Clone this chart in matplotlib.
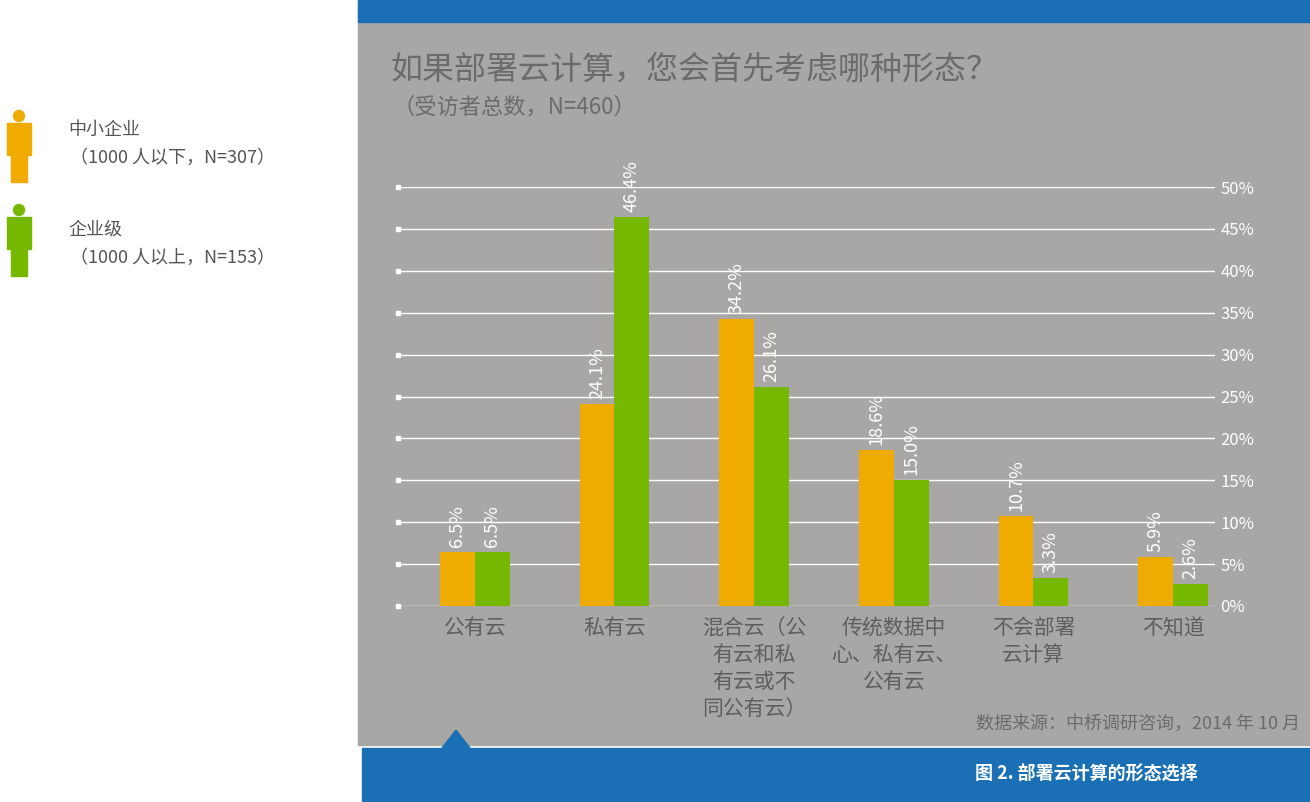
import matplotlib
matplotlib.use("Agg")
import matplotlib.pyplot as plt
from matplotlib.patches import Rectangle, Polygon, Ellipse
import numpy as np

plt.rcParams['font.family'] = ['Noto Sans CJK SC', 'DejaVu Sans']

categories = ["公有云", "私有云", "混合云（公\n有云和私\n有云或不\n同公有云）", "传统数据中\n心、私有云、\n公有云", "不会部署\n云计算", "不知道"]
sme = [6.5, 24.1, 34.2, 18.6, 10.7, 5.9]
ent = [6.5, 46.4, 26.1, 15.0, 3.3, 2.6]
yticks = [0, 5, 10, 15, 20, 25, 30, 35, 40, 45, 50]

W, H = 1310, 802
fig = plt.figure(figsize=(W/100, H/100), dpi=100)
fig.patch.set_facecolor('white')

def fx(x): return x / W
def fy(y): return 1 - y / H

gray = '#A9A7A6'
orange = '#F0AB00'
green = '#76B800'
blue = '#1A6FB5'

def addp(p, z):
    p.set_zorder(z)
    fig.patches.append(p)

addp(Rectangle((fx(358), fy(745)), fx(1310-358), 745/H, transform=fig.transFigure, color=gray), -3)
addp(Rectangle((fx(358), fy(22)), fx(1310-358), 22/H, transform=fig.transFigure, color=blue), -2)
addp(Rectangle((fx(362), fy(802)), fx(1310-362), (802-748)/H, transform=fig.transFigure, color=blue), -2)
addp(Polygon([(fx(442), fy(748)), (fx(456), fy(730)), (fx(470), fy(748))], closed=True, transform=fig.transFigure, color=blue), -2)

fig.text(fx(390), fy(70), "如果部署云计算，您会首先考虑哪种形态？", fontsize=23, color='#6B6B6B', va='center')
fig.text(fx(393), fy(107), "（受访者总数，N=460）", fontsize=16, color='#6B6B6B', va='center')
fig.text(fx(1300), fy(724), "数据来源：中桥调研咨询，2014 年 10 月", fontsize=13, color='#6B6B6B', va='center', ha='right')
fig.text(fx(975), fy(773), "图 2. 部署云计算的形态选择", fontsize=13, color='white', va='center', weight='bold')

def person(cx, top, color):
    addp(Ellipse((fx(cx), fy(top+6)), fx(11), 11/H, transform=fig.transFigure, color=color), 1)
    addp(Rectangle((fx(cx-12), fy(top+45)), fx(24), 32/H, transform=fig.transFigure, color=color), 1)
    addp(Rectangle((fx(cx-8), fy(top+72)), fx(16), 30/H, transform=fig.transFigure, color=color), 1)
person(19, 110, orange)
person(19, 204, green)
fig.text(fx(68), fy(130), "中小企业", fontsize=13, color='#555555', va='center')
fig.text(fx(70), fy(158), "（1000 人以下，N=307）", fontsize=13, color='#555555', va='center')
fig.text(fx(68), fy(230), "企业级", fontsize=13, color='#555555', va='center')
fig.text(fx(70), fy(258), "（1000 人以上，N=153）", fontsize=13, color='#555555', va='center')

ax = fig.add_axes([fx(398), fy(606), fx(1215-398), (606-187)/H])
ax.set_facecolor('none')
x = np.arange(len(categories))
w = 0.25
ax.bar(x - w/2, sme, w, color=orange, zorder=3)
ax.bar(x + w/2, ent, w, color=green, zorder=3)
for xi, v in zip(x, sme):
    ax.text(xi - w/2, v + 0.6, f"{v:.1f}%", rotation=90, ha='center', va='bottom', color='white', fontsize=13)
for xi, v in zip(x, ent):
    ax.text(xi + w/2, v + 0.6, f"{v:.1f}%", rotation=90, ha='center', va='bottom', color='white', fontsize=13)
ax.set_ylim(0, 50)
ax.set_xlim(-0.55, 5.3)
ax.set_yticks(yticks)
ax.yaxis.tick_right()
ax.set_yticklabels([f"{t}%" for t in yticks], color='white', fontsize=12)
ax.tick_params(axis='y', length=0, pad=4)
ax.grid(axis='y', color='white', linewidth=1, zorder=0)
for t in yticks:
    ax.plot([-0.55], [t], marker='s', color='white', markersize=3.5, clip_on=False, zorder=4)
for s in ax.spines.values():
    s.set_visible(False)
ax.set_xticks(x)
ax.set_xticklabels(categories, color='#5E5E5E', fontsize=15, linespacing=1.3, va='top')
ax.tick_params(axis='x', length=0, pad=8)

fig.savefig('out.png', dpi=100)
